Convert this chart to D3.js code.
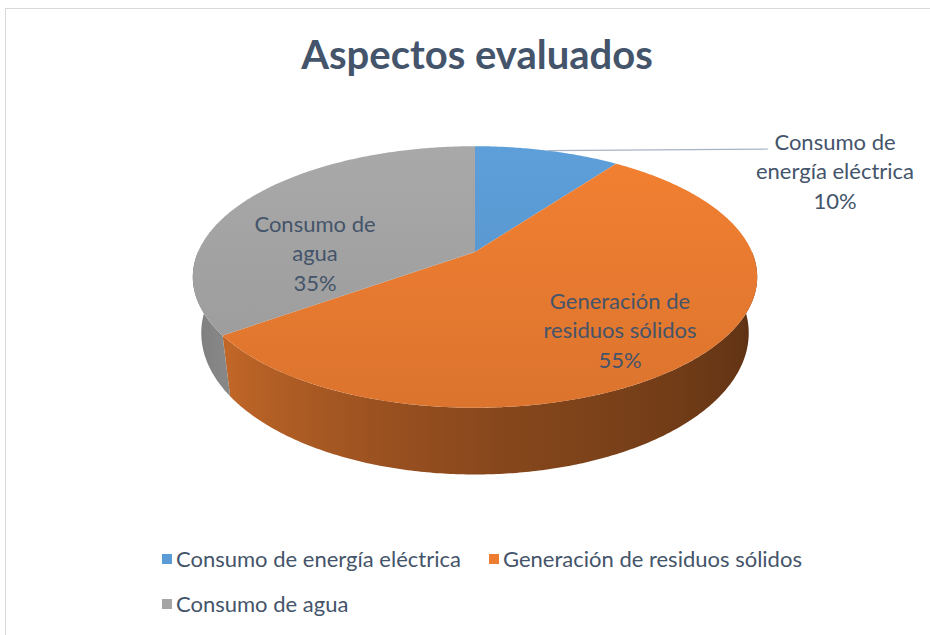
<!DOCTYPE html>
<html>
<head>
<meta charset="utf-8">
<script src="https://cdn.jsdelivr.net/npm/d3@7"></script>
<style>
  body { margin: 0; background: #ffffff; }
  svg { display: block; font-family: Lato, "Open Sans", sans-serif; }
</style>
</head>
<body>
<div id="chart"></div>
<script>
// data
var categories = ["Consumo de energía eléctrica", "Generación de residuos sólidos", "Consumo de agua"];
var values = [10, 55, 35];
var labelLines = [["Consumo de", "energía eléctrica", "10%"], ["Generación de", "residuos sólidos", "55%"], ["Consumo de", "agua", "35%"]];
var colors = ["#5b9bd5", "#ed7d31", "#a5a5a5"];

var svgWidth = 930;
var svgHeight = 635;
var textColor = "#44546a";

var svg = d3.select("#chart")
    .append("svg")
    .attr("width", svgWidth)
    .attr("height", svgHeight);

// chart border
svg.append("rect")
    .attr("x", 5.5)
    .attr("y", 8.5)
    .attr("width", 940)
    .attr("height", 640)
    .attr("fill", "#fff")
    .attr("stroke", "#d9d9d9");

// title
svg.append("text")
    .attr("x", 477)
    .attr("y", 69)
    .attr("text-anchor", "middle")
    .attr("font-size", 40)
    .attr("font-weight", "bold")
    .attr("fill", textColor)
    .text("Aspectos evaluados");

// 3D pie geometry (perspective look)
var cx = 475, cy = 252, rx = 277, ry = 126, persp = 0.191, depth = 54, shrink = 0.03;

function proj(theta, k, drop) {
    var c = Math.cos(theta), s = Math.sin(theta);
    var D = 1 + persp * k * c;
    var sx = 1 - shrink * drop / depth;
    return [cx + k * rx * s / D * sx, cy - k * ry * c / D + drop / D];
}

var pie = d3.pie().sort(null).value(d => d);
var arcs = pie(values);
var line = d3.line();

function arcPoints(a0, a1, drop) {
    var n = Math.max(2, Math.ceil((a1 - a0) / 0.01));
    return d3.range(n + 1).map(i => proj(a0 + (a1 - a0) * i / n, 1, drop));
}

var defs = svg.append("defs");

// wall brightness by angle (lit from front-left)
var shade = d3.scaleLinear()
    .domain([Math.PI * 100 / 180, Math.PI, Math.PI * 234 / 180, Math.PI * 262 / 180])
    .range([0.37, 0.58, 0.82, 0.7]);

function scaleColor(col, f) {
    var c = d3.rgb(col);
    return d3.rgb(c.r * f, c.g * f, c.b * f).formatHex();
}

// side walls
arcs.forEach(function (d, i) {
    var a0 = Math.max(d.startAngle, Math.PI / 2);
    var a1 = Math.min(d.endAngle, Math.PI * 3 / 2);
    if (a1 <= a0) return;
    var top = arcPoints(a0, a1, 0);
    var bottom = arcPoints(a0, a1, depth).reverse();

    var gid = "wall" + i;
    var x0 = top[0][0], x1 = top[top.length - 1][0];
    var grad = defs.append("linearGradient")
        .attr("id", gid)
        .attr("gradientUnits", "userSpaceOnUse")
        .attr("x1", x0).attr("y1", 0)
        .attr("x2", x1).attr("y2", 0);
    d3.range(11).forEach(function (j) {
        var t = a0 + (a1 - a0) * j / 10;
        var p = proj(t, 1, 0);
        var off = (p[0] - x0) / (x1 - x0);
        grad.append("stop")
            .attr("offset", Math.max(0, Math.min(1, off)))
            .attr("stop-color", scaleColor(colors[i], shade(t)));
    });

    svg.append("path")
        .attr("d", line(top.concat(bottom)) + "Z")
        .attr("fill", "url(#" + gid + ")");
});

// top faces
arcs.forEach(function (d, i) {
    var gid = "top" + i;
    var grad = defs.append("linearGradient")
        .attr("id", gid)
        .attr("gradientUnits", "userSpaceOnUse")
        .attr("x1", 0).attr("y1", cy - ry)
        .attr("x2", 0).attr("y2", cy + ry + 30);
    grad.append("stop").attr("offset", 0).attr("stop-color", scaleColor(colors[i], 1.03));
    grad.append("stop").attr("offset", 1).attr("stop-color", scaleColor(colors[i], 0.93));

    var pts = [[cx, cy]].concat(arcPoints(d.startAngle, d.endAngle, 0));
    svg.append("path")
        .attr("d", line(pts) + "Z")
        .attr("fill", "url(#" + gid + ")");
});

// leader line for the small slice
var mid0 = (arcs[0].startAngle + arcs[0].endAngle) / 2;
var lp = proj(mid0, 1, 0);
svg.append("path")
    .attr("d", line([lp, [768, 149]]))
    .attr("stroke", "#a6b4c6")
    .attr("stroke-width", 1.2)
    .attr("fill", "none");

// data labels
var labelPos = [[835, 142], [620, 301], [315, 224]];
labelLines.forEach(function (lines, i) {
    var t = svg.append("text")
        .attr("text-anchor", "middle")
        .attr("font-size", 22)
        .attr("fill", textColor);
    lines.forEach(function (s, j) {
        t.append("tspan")
            .attr("x", labelPos[i][0])
            .attr("y", labelPos[i][1] + j * 29.5)
            .attr("dy", "0.35em")
            .text(s);
    });
});

// legend
var legendPos = [[162, 559], [489, 559], [162, 604]];
categories.forEach(function (c, i) {
    var g = svg.append("g")
        .attr("transform", `translate(${legendPos[i][0]}, ${legendPos[i][1]})`);
    g.append("rect")
        .attr("x", 0).attr("y", -5)
        .attr("width", 10).attr("height", 10)
        .attr("fill", colors[i]);
    g.append("text")
        .attr("x", 14)
        .attr("y", 0)
        .attr("dy", "0.35em")
        .attr("font-size", 22)
        .attr("fill", textColor)
        .text(c);
});
</script>
</body>
</html>
